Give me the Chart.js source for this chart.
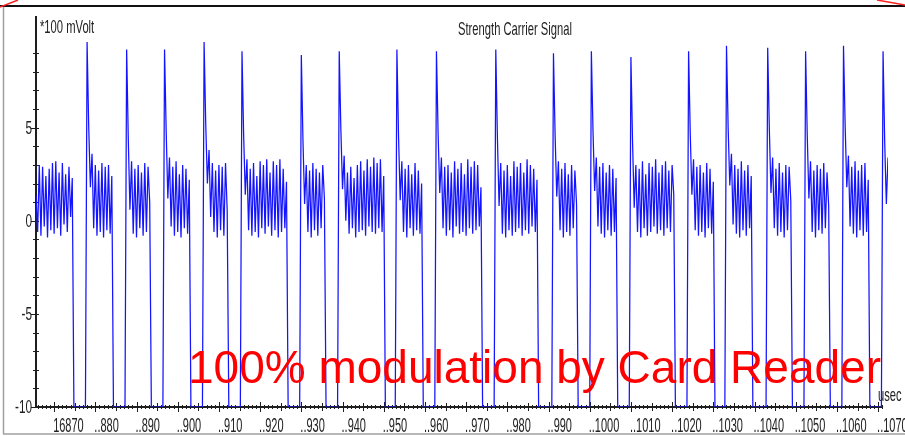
<!DOCTYPE html>
<html>
<head>
<meta charset="utf-8">
<title>Strength Carrier Signal</title>
<script src="https://cdn.jsdelivr.net/npm/chart.js@4.4.1/dist/chart.umd.min.js"></script>
<style>
  html, body { margin: 0; padding: 0; background: #fff; }
  canvas { display: block; }
</style>
</head>
<body>
<canvas id="signalChart" width="905" height="436"></canvas>
<script>
// scope samples, *100 mVolt, one every 0.4 usec
const sampleStartUs = 16865.6
const sampleStepUs = 0.4
const level = [
  1.4, -0.6, 3.0, -0.8, 2.9, -0.3, 2.4, -0.9, 2.8, -0.5, 3.1, -0.7, 3.2, -0.4, 2.6, -0.8, 3.1, -0.2, 2.5, -0.6, 2.9, 0.2, 2.3,
  -10, -10, -10, -10, -10, -10, -10, -10, 9.6,
  5.0, 1.8, 3.6, -0.4, 3.0, -0.8, 2.7, -0.6, 3.1, -0.9, 2.9, -0.5, 3.0, -0.7, 2.4,
  -10, -10, -10, -10, -10, -10, -10, -10, 9.2,
  4.4, 0.6, 3.2, -0.7, 2.8, -0.9, 3.0, -0.4, 2.6, -0.8, 3.1, -0.6, 2.9, 1.0,
  -10, -10, -10, -10, -10, -10, -10, -10, 9.2,
  4.8, 1.2, 3.4, -0.3, 2.9, -0.8, 3.2, -0.6, 2.5, -0.9, 3.0, -0.4, 2.8, -0.7, 2.2,
  -10, -10, -10, -10, -10, -10, -10, -10, 9.6,
  5.2, 2.0, 3.8, 0.2, 3.1, -0.6, 2.7, -0.9, 3.0, -0.5, 2.9, -0.8, 3.1, 0.6,
  -10, -10, -10, -10, -10, -10, -10, -10, 9.1,
  4.6, 1.4, 3.3, -0.5, 2.8, -0.8, 3.1, -0.6, 2.4, -0.9, 3.2, -0.4, 3.0, -0.7, 3.3, -0.3, 2.6, -0.8, 3.2, -0.5, 3.0, -0.9, 3.3, -0.6, 2.8, -0.4, 2.1,
  -10, -10, -10, -10, -10, -10, -10, -10, 8.9,
  4.3, 0.9, 3.0, -0.6, 2.7, -0.9, 3.1, -0.5, 2.8, -0.8, 2.6, -0.4, 3.0, 1.2,
  -10, -10, -10, -10, -10, -10, -10, -10, 9.1,
  4.9, 1.7, 3.5, 0.0, 2.6, -0.7, 2.9, -0.4, 2.3, -0.9, 3.0, -0.6, 3.2, -0.5, 2.7, -0.8, 3.3, -0.3, 2.9, -0.6, 3.4, -0.7, 3.1, -0.4, 3.3, -0.6, 2.4,
  -10, -10, -10, -10, -10, -10, -10, 9.2,
  4.5, 1.1, 3.2, -0.6, 2.8, -0.9, 3.0, -0.4, 2.5, -0.8, 3.1, -0.5, 2.7, -0.7, 2.0,
  -10, -10, -10, -10, -10, -10, -10, -10, 9.1,
  4.7, 1.5, 3.4, -0.4, 2.9, -0.8, 3.0, -0.5, 2.6, -0.9, 3.2, -0.3, 2.8, -0.7, 3.1, -0.6, 2.5, -0.8, 3.3, -0.4, 2.9, -0.7, 3.2, -0.5, 3.0, -0.3, 1.8,
  -10, -10, -10, -10, -10, -10, -10, -10, 9.2,
  4.4, 0.8, 3.1, -0.7, 2.7, -0.9, 3.0, -0.5, 2.4, -0.8, 3.2, -0.6, 2.9, -0.4, 3.1, -0.8, 2.6, -0.5, 3.3, -0.7, 3.0, -0.3, 2.8, -0.6, 2.2,
  -10, -10, -10, -10, -10, -10, -10, -10, -10, 9.0,
  4.6, 1.3, 3.2, -0.5, 2.8, -0.9, 3.1, -0.6, 2.5, -0.8, 3.0, -0.4, 2.7, 0.9,
  -10, -10, -10, -10, -10, -10, -10, -10, 9.1,
  4.8, 1.6, 3.4, -0.3, 2.9, -0.7, 3.1, -0.9, 2.6, -0.5, 3.0, -0.8, 2.8, -0.6, 2.3,
  -10, -10, -10, -10, -10, -10, -10, -10, 8.8,
  4.2, 0.7, 3.0, -0.6, 2.8, -0.9, 3.2, -0.4, 2.5, -0.8, 3.1, -0.6, 2.9, -0.3, 3.3, -0.7, 2.6, -0.5, 3.0, -0.8, 3.2, -0.4, 2.7, -0.6, 3.0, 1.4,
  -10, -10, -10, -10, -10, -10, -10, -10, 9.1,
  4.7, 1.4, 3.3, -0.5, 2.9, -0.8, 3.0, -0.6, 2.6, -0.9, 3.1, -0.4, 2.8, -0.7, 2.1,
  -10, -10, -10, -10, -10, -10, -10, 9.4,
  5.0, 1.9, 3.6, -0.2, 3.0, -0.7, 2.8, -0.9, 3.2, -0.5, 2.7, -0.8, 3.0, -0.4, 2.4,
  -10, -10, -10, -10, -10, -10, -10, -10, -10, 9.3,
  4.9, 1.5, 3.4, -0.4, 2.8, -0.8, 3.1, -0.6, 2.6, -0.9, 3.0, -0.5, 2.9, 1.1,
  -10, -10, -10, -10, -10, -10, -10, -10, 9.1,
  4.6, 1.2, 3.2, -0.6, 2.7, -0.9, 3.0, -0.5, 2.8, -0.7, 3.1, -0.4, 2.6, 0.8,
  -10, -10, -10, -10, -10, -10, -10, -10, 9.4,
  5.1, 1.8, 3.5, -0.3, 2.9, -0.7, 3.2, -0.9, 2.7, -0.5, 3.0, -0.8, 3.1, -0.6, 2.2,
  -10, -10, -10, -10, -10, -10, -10, -10, 9.1,
  4.2, 0.9, 3.4,
]

const xTickValues = [16870, 16880, 16890, 16900, 16910, 16920, 16930, 16940, 16950, 16960, 16970,
  16980, 16990, 17000, 17010, 17020, 17030, 17040, 17050, 17060, 17070]
const xTickLabels = ['16870', '..880', '..890', '..900', '..910', '..920', '..930', '..940', '..950', '..960', '..970',
  '..980', '..990', '..1000', '..1010', '..1020', '..1030', '..1040', '..1050', '..1060', '..1070']
const yTickValues = [-10, -5, 0, 5]
const yTickLabels = ['-10', '-5', '0', '5']

const titleText = 'Strength Carrier Signal'
const yUnitText = '*100 mVolt'
const xUnitText = 'usec'
const noteText = '100% modulation by Card Reader'

const points = level.map((value, i) => ({ x: sampleStartUs + i * sampleStepUs, y: value }))

const axisColor = '#1e1e1e'
const labelColor = '#222'

function narrowText(ctx, text, x, y, align, baseline, size = 20, squeeze = 0.55) {
  ctx.save()
  ctx.translate(x, y)
  ctx.scale(squeeze, 1)
  ctx.font = `${size}px "Liberation Sans", Arial, sans-serif`
  ctx.fillStyle = labelColor
  ctx.textAlign = align
  ctx.textBaseline = baseline
  ctx.fillText(text, 0, 0)
  ctx.restore()
}

function line(ctx, x1, y1, x2, y2) {
  ctx.beginPath()
  ctx.moveTo(x1, y1)
  ctx.lineTo(x2, y2)
  ctx.stroke()
}

const scopeFrame = {
  id: 'scopeFrame',
  beforeDatasetsDraw(chart) {
    const { ctx, chartArea, scales } = chart
    const xs = scales.x
    const ys = scales.y
    const xAxisEnd = xs.getPixelForValue(17071.2)

    ctx.save()
    ctx.strokeStyle = axisColor

    ctx.lineWidth = 2
    line(ctx, chartArea.left, chartArea.top, chartArea.left, chartArea.bottom + 1)
    line(ctx, chartArea.left - 1, chartArea.bottom, xAxisEnd, chartArea.bottom)

    ctx.lineWidth = 1
    for (let v = -10; v <= 9; v++) {
      const py = Math.round(ys.getPixelForValue(v)) + 0.5
      const major = v % 5 === 0
      line(ctx, chartArea.left - (major ? 5 : 3), py, chartArea.left + 3, py)
    }

    for (let t = 16866; t <= 17071; t++) {
      const px = Math.round(xs.getPixelForValue(t)) + 0.5
      const size = t % 10 === 0 ? 5 : t % 5 === 0 ? 4 : 2
      line(ctx, px, chartArea.bottom - size, px, chartArea.bottom + size)
    }
    ctx.restore()

    yTickValues.forEach((v, i) => {
      narrowText(ctx, yTickLabels[i], chartArea.left - 4, ys.getPixelForValue(v) + 1, 'right', 'middle', 19, 0.62)
    })
    xTickValues.forEach((v, i) => {
      narrowText(ctx, xTickLabels[i], xs.getPixelForValue(v) - 1, 432, 'left', 'alphabetic')
    })

    narrowText(ctx, titleText, 515, 35, 'center', 'alphabetic', 19, 0.59)
    narrowText(ctx, yUnitText, 40, 33, 'left', 'alphabetic', 19, 0.59)
    narrowText(ctx, xUnitText, 878, 401, 'left', 'alphabetic', 19, 0.59)
  },
  afterDraw(chart) {
    const { ctx } = chart
    ctx.save()

    ctx.font = '46px "Liberation Sans", Arial, sans-serif'
    ctx.fillStyle = '#ff0000'
    ctx.textAlign = 'left'
    ctx.textBaseline = 'alphabetic'
    ctx.fillText(noteText, 188, 383)

    ctx.strokeStyle = '#a0a0a0'
    ctx.lineWidth = 1.5
    line(ctx, 3.5, 6, 3.5, 434)
    line(ctx, 3, 434, 905, 434)

    ctx.strokeStyle = '#111'
    ctx.lineWidth = 2
    line(ctx, 0, 6, 905, 6)

    ctx.strokeStyle = '#ff2020'
    ctx.lineWidth = 1.5
    line(ctx, 0, 7, 18, 0)
    line(ctx, 877, 0, 905, 5)
    ctx.restore()
  },
}

new Chart(document.getElementById('signalChart'), {
  type: 'line',
  data: {
    datasets: [
      {
        label: titleText,
        data: points,
        borderColor: 'rgb(20, 20, 255)',
        borderWidth: 1.25,
        pointRadius: 0,
        tension: 0,
        fill: false,
      },
    ],
  },
  options: {
    responsive: false,
    animation: false,
    devicePixelRatio: 1,
    events: [],
    layout: {
      padding: { left: 36, top: 16, right: 17, bottom: 29 },
    },
    plugins: {
      legend: { display: false },
      tooltip: { enabled: false },
    },
    scales: {
      x: { type: 'linear', min: 16865.6, max: 17072.4, display: false },
      y: { min: -10, max: 11, display: false },
    },
  },
  plugins: [scopeFrame],
})
</script>
</body>
</html>
